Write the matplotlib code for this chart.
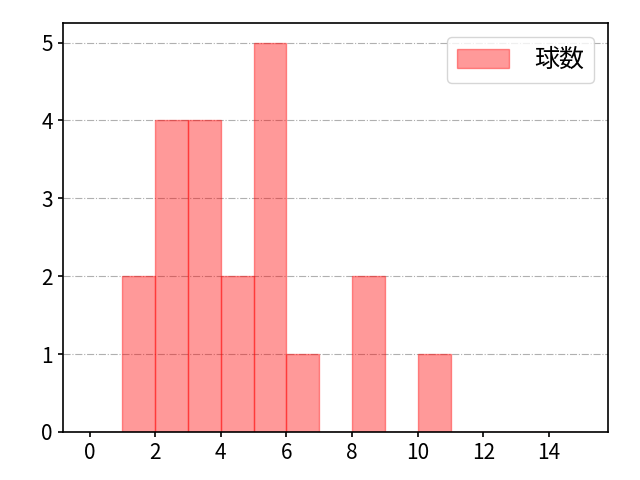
import matplotlib
matplotlib.use("Agg")
import matplotlib.pyplot as plt
import numpy as np

plt.rcParams['font.family'] = ['Noto Sans CJK JP', 'DejaVu Sans']

bin_edges = list(range(0, 16))
counts = [0, 2, 4, 4, 2, 5, 1, 0, 2, 0, 1, 0, 0, 0, 0]
label = "球数"

fig, ax = plt.subplots(figsize=(6.4, 4.8), dpi=100)
ax.hist(bin_edges[:-1], bins=bin_edges, weights=counts, color='red', alpha=0.4,
        edgecolor='red', linewidth=1, label=label)
ax.set_xlim(-0.82, 15.8)
ax.set_ylim(0, 5.25)
ax.set_xticks(range(0, 15, 2))
ax.set_yticks(range(0, 6))
ax.yaxis.grid(True, linestyle='-.', color='#b0b0b0', linewidth=0.8)
ax.set_axisbelow(True)
for s in ax.spines.values():
    s.set_linewidth(1.2)
ax.tick_params(labelsize=15, width=1.2)
ax.legend(loc='upper right', fontsize=18, borderaxespad=0.55, handleheight=0.8,
          handlelength=2.1, handletextpad=1.0)
fig.subplots_adjust(left=0.098, right=0.95, bottom=0.1, top=0.952)
fig.savefig("out.png")
